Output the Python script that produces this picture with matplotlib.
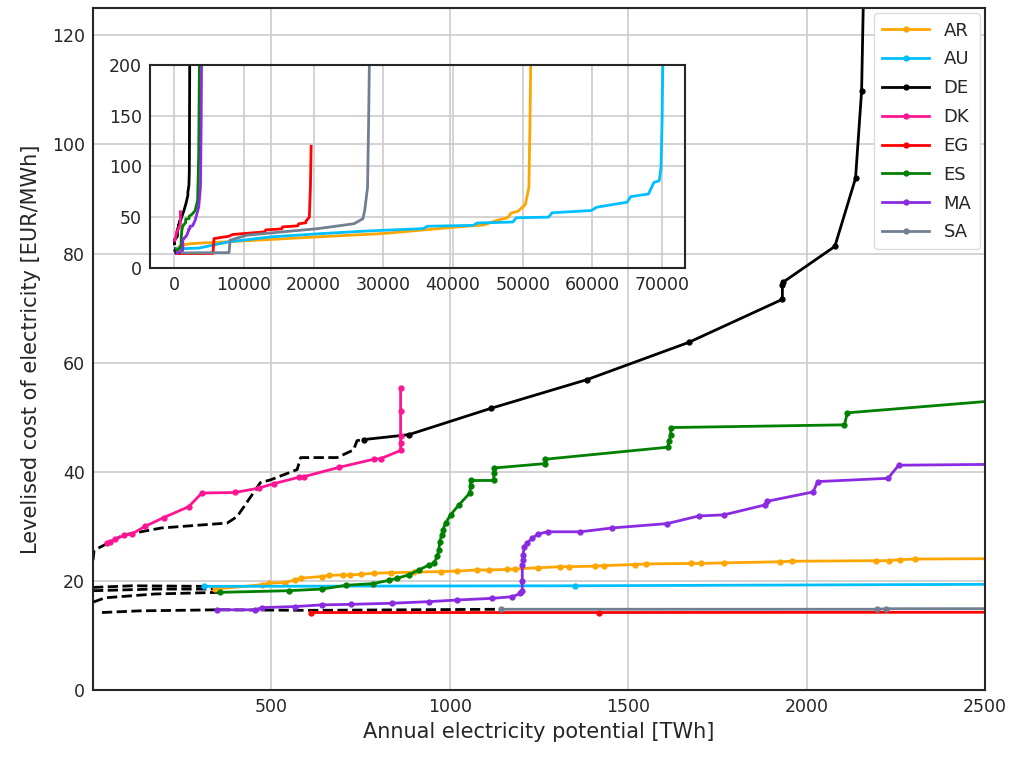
import matplotlib
matplotlib.use('Agg')
import matplotlib.pyplot as plt

# supply curves per country: annual potential [TWh] vs LCOE [EUR/MWh]
AR_x = [342, 473, 492, 539, 567, 582, 641, 660, 700, 720, 750, 787, 834, 900, 974, 1021,
        1077, 1109, 1161, 1184, 1247, 1310, 1334, 1408, 1432, 1520, 1550, 1675, 1705,
        1768, 1925, 1960, 2193, 2230, 2263, 2305, 2600, 10404, 20654, 29879, 39617,
        44500, 46279, 47817, 48329, 49354, 50379, 50892, 51046, 51148, 51200]
AR_y = [18.5, 19.3, 19.6, 19.7, 20.2, 20.5, 20.8, 21.0, 21.1, 21.1, 21.2, 21.4, 21.5, 21.6,
        21.7, 21.8, 22.0, 22.0, 22.1, 22.2, 22.4, 22.6, 22.6, 22.7, 22.8, 23.0, 23.1,
        23.2, 23.2, 23.3, 23.5, 23.6, 23.7, 23.7, 23.9, 24.0, 24.1, 26.8, 30.7, 33.9,
        39.8, 42.5, 46.9, 49.5, 54.0, 56.0, 62.5, 79.4, 144.3, 199.5, 230]

AU_x = [310, 1352, 3500, 7841, 13992, 21167, 27829, 35773, 36285, 42948, 43460, 48585,
        49098, 53711, 54223, 59861, 60629, 64986, 65498, 68061, 68829, 69598, 69854,
        70008, 70110, 70150]
AU_y = [19.0, 19.1, 19.6, 25.8, 30.7, 33.9, 36.5, 38.8, 41.1, 42.0, 44.3, 45.3, 49.5,
        50.1, 54.4, 56.6, 59.9, 64.8, 70.3, 72.9, 84.2, 85.9, 98.8, 144.3, 199.5, 230]

DE_x = [759, 885, 1114, 1385, 1669, 1932, 1932, 1933, 2079, 2137, 2154, 2163, 2190, 2210]
DE_y = [45.9, 46.8, 51.6, 56.9, 63.7, 71.6, 74.3, 74.7, 81.3, 93.8, 109.8, 140, 190, 230]

DK_x = [39, 48, 62, 88, 109, 146, 198, 268, 305, 398, 464, 506, 577, 591, 689, 787, 806,
        862, 862, 862, 862, 862]
DK_y = [26.9, 27.1, 27.6, 28.4, 28.6, 30.0, 31.6, 33.6, 36.1, 36.2, 37.0, 37.8, 39.0, 39.1,
        40.8, 42.3, 42.4, 43.9, 45.3, 46.5, 51.1, 55.4]

EG_x = [612, 1418, 5535, 5689, 7841, 8354, 12967, 13100, 15400, 15529, 17700, 17835,
        18854, 18900, 19367, 19527, 19629]
EG_y = [14.2, 14.2, 14.4, 29.0, 31.3, 33.0, 35.6, 37.5, 38.5, 40.5, 41.5, 43.5, 44.5,
        46.3, 50.1, 79.4, 119.9]

ES_x = [356, 548, 641, 710, 785, 829, 853, 885, 913, 941, 955, 965, 969, 972, 977, 981,
        988, 1002, 1025, 1056, 1058, 1058, 1123, 1123, 1125, 1268, 1268, 1611, 1614, 1619,
        1619, 2106, 2114, 2600, 2973, 3331, 3485, 3588, 3600]
ES_y = [17.9, 18.2, 18.5, 19.2, 19.5, 20.1, 20.5, 21.1, 22.0, 22.9, 23.2, 24.5, 25.7, 27.2,
        28.4, 29.4, 30.6, 32.1, 33.9, 36.1, 37.3, 38.4, 38.4, 39.8, 40.7, 41.5, 42.3, 44.5,
        45.6, 46.8, 48.1, 48.6, 50.8, 53.4, 56.6, 66.4, 111.8, 199.5, 230]

MA_x = [347, 455, 473, 567, 641, 722, 837, 943, 1021, 1119, 1175, 1198, 1203, 1203, 1203,
        1204, 1205, 1209, 1217, 1231, 1247, 1275, 1366, 1455, 1609, 1698, 1768, 1882, 1890,
        2018, 2031, 2228, 2258, 2600, 2973, 3485, 3741, 3844, 3895, 3900]
MA_y = [14.7, 14.7, 15.1, 15.3, 15.6, 15.7, 15.9, 16.2, 16.5, 16.8, 17.1, 17.7, 18.2, 20.0,
        22.9, 23.8, 24.8, 26.3, 27.0, 27.8, 28.6, 29.0, 29.0, 29.7, 30.5, 31.9, 32.1, 33.9,
        34.6, 36.3, 38.2, 38.8, 41.2, 41.4, 46.9, 59.9, 79.4, 144.3, 199.5, 230]

SA_x = [1142, 2198, 2221, 7841, 8000, 10404, 15529, 20654, 25779, 27060, 27316, 27726,
        27880, 27983, 28000]
SA_y = [14.8, 14.8, 14.9, 15.1, 27.4, 32.3, 35.6, 38.8, 43.6, 48.5, 56.6, 79.4, 144.3,
        199.5, 230]

# dashed black connectors from zero
dashA_x = [0, 3, 85, 192, 376, 404, 469, 497, 572, 582, 684, 730, 740, 759]
dashA_y = [23.8, 25.6, 28.4, 29.7, 30.6, 31.8, 38.0, 38.5, 40.4, 42.6, 42.6, 44.0, 45.7, 45.9]
dashB_x = [0, 109, 310]
dashB_y = [18.8, 19.1, 19.0]
dashC_x = [0, 174, 342]
dashC_y = [18.2, 18.5, 18.5]
dashD_x = [0, 34, 174, 356]
dashD_y = [16.1, 16.9, 17.6, 17.9]
dashE_x = [25, 128, 347, 612, 1142]
dashE_y = [14.2, 14.5, 14.7, 14.6, 14.8]

countries = ['AR', 'AU', 'DE', 'DK', 'EG', 'ES', 'MA', 'SA']
xs = [AR_x, AU_x, DE_x, DK_x, EG_x, ES_x, MA_x, SA_x]
ys = [AR_y, AU_y, DE_y, DK_y, EG_y, ES_y, MA_y, SA_y]
colors = ['orange', 'deepskyblue', 'black', 'deeppink', 'red', 'green', 'blueviolet',
          'slategray']
dashes = [(dashA_x, dashA_y), (dashB_x, dashB_y), (dashC_x, dashC_y),
          (dashD_x, dashD_y), (dashE_x, dashE_y)]

plt.rcParams['text.color'] = '#262626'
plt.rcParams['axes.labelcolor'] = '#262626'
plt.rcParams['xtick.color'] = '#262626'
plt.rcParams['ytick.color'] = '#262626'

fig = plt.figure(figsize=(10.29, 7.6), dpi=100)
ax = fig.add_axes([0.0904, 0.0921, 0.8669, 0.8974])

for dx, dy in dashes:
    ax.plot(dx, dy, color='black', linestyle='--', linewidth=2)

for c, x, y, col in zip(countries, xs, ys, colors):
    ax.plot(x, y, color=col, linewidth=2, marker='o', markersize=3.5, label=c)

ax.set_xlim(0, 2500)
ax.set_ylim(0, 125)
ax.set_xticks([500, 1000, 1500, 2000, 2500])
ax.set_yticks([0, 20, 40, 60, 80, 100, 120])
ax.grid(True, color='#cccccc', linewidth=1.2)
ax.set_axisbelow(True)
ax.tick_params(length=0, labelsize=12.5, pad=6)
for s in ax.spines.values():
    s.set_color('#262626')
    s.set_linewidth(1.5)
ax.set_xlabel('Annual electricity potential [TWh]', fontsize=15, labelpad=4)
ax.set_ylabel('Levelised cost of electricity [EUR/MWh]', fontsize=15, labelpad=8)
ax.legend(loc='upper right', fontsize=13, labelspacing=0.6, handlelength=2.6,
          borderpad=0.45, borderaxespad=0.3, framealpha=1, edgecolor='#dddddd')

# inset with full curves
axin = fig.add_axes([0.1458, 0.6474, 0.5199, 0.2671])
axin.set_facecolor('none')
for dx, dy in dashes:
    axin.plot(dx, dy, color='black', linestyle='--', linewidth=2)
axin.plot(dashA_x, dashA_y, color='black', linewidth=2)
for x, y, col in zip(xs, ys, colors):
    axin.plot(x, y, color=col, linewidth=2)
axin.set_xlim(-3500, 73300)
axin.set_ylim(0, 200)
axin.set_xticks([0, 10000, 20000, 30000, 40000, 50000, 60000, 70000])
axin.set_yticks([0, 50, 100, 150, 200])
axin.grid(True, color='#cccccc', linewidth=1.2)
axin.set_axisbelow(True)
axin.tick_params(length=0, labelsize=12.5, pad=6)
for s in axin.spines.values():
    s.set_color('#262626')
    s.set_linewidth(1.5)

plt.savefig('out.png', dpi=100)
